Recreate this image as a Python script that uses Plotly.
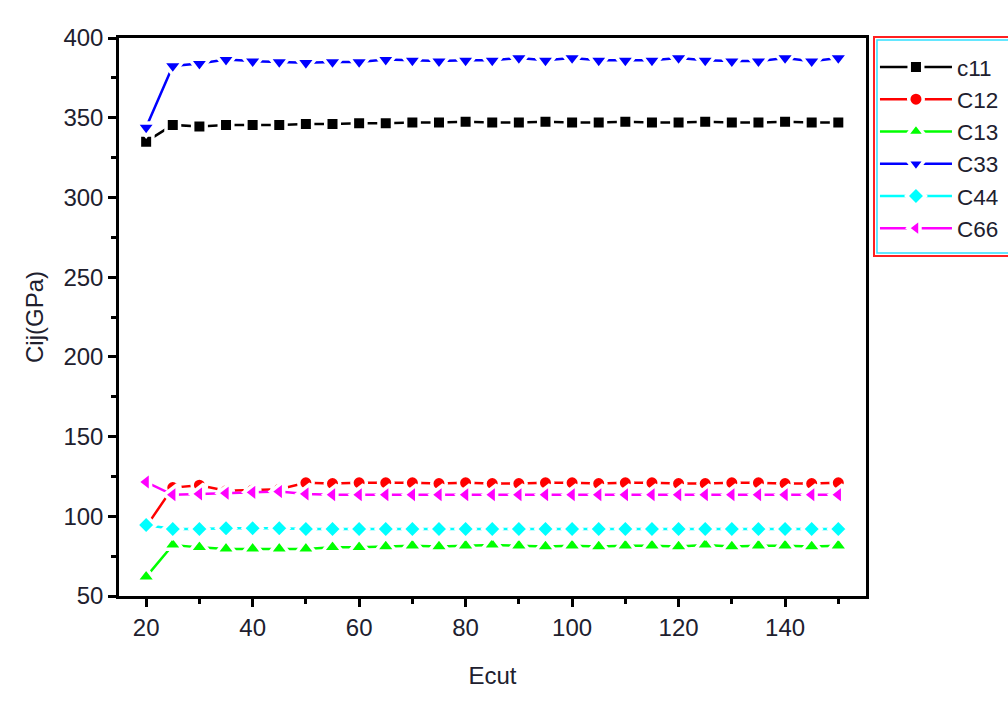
import plotly.graph_objects as go

ecut = [20, 25, 30, 35, 40, 45, 50, 55, 60, 65, 70, 75, 80, 85, 90, 95, 100,
        105, 110, 115, 120, 125, 130, 135, 140, 145, 150]

c11 = [335, 345.5, 344.5, 345.5, 345.5, 345.5, 346, 346, 346.5, 346.5,
       347, 347, 347.5, 347, 347, 347.5, 347, 347, 347.5, 347, 347, 347.5,
       347, 347, 347.5, 347, 347]
c12 = [93.5, 118, 119.5, 116, 116.5, 117, 121, 120.5, 121, 121,
       121, 120.5, 121, 120.5, 120.5, 121, 121, 120.5, 121, 121, 120.5,
       120.5, 121, 121, 120.5, 120.5, 121]
c13 = [62, 82, 80.5, 79.5, 79.5, 79.5, 79.5, 80.5, 80.5, 81,
       81.5, 81, 81.5, 82, 81.5, 81, 81.5, 81, 81.5, 81.5, 81, 82,
       81, 81.5, 81.5, 81, 81.5]
c33 = [344, 382.5, 384, 386.5, 385.5, 385, 384.5, 385, 385, 386.5,
       386, 385.5, 386, 386, 387.5, 386, 387.5, 386, 386, 386, 387.5,
       386, 385.5, 385.5, 387.5, 385.5, 387.5]
c44 = [94.5, 92, 92, 92.5, 92.5, 92.5, 92, 92, 92, 92,
       92, 92, 92, 92, 92, 92, 92, 92, 92, 92, 92, 92, 92, 92, 92, 92, 92]
c66 = [121.5, 113.5, 114, 114.5, 115, 115.5, 114, 113.5, 113.5, 113.5,
       113.5, 113.5, 113.5, 113.5, 113.5, 113.5, 113.5, 113.5, 113.5, 113.5,
       113.5, 113.5, 113.5, 113.5, 113.5, 113.5, 113.5]

names = ["c11", "C12", "C13", "C33", "C44", "C66"]
series = [c11, c12, c13, c33, c44, c66]
colors = ["#000000", "#ff0000", "#00ff00", "#0000ff", "#00ffff", "#ff00ff"]
symbols = ["square", "circle", "triangle-up", "triangle-down", "diamond", "triangle-left"]
sizes = [13.5, 14.5, 17.5, 17.5, 14.5, 17.5]

xticks = [20, 40, 60, 80, 100, 120, 140]
yticks = [50, 100, 150, 200, 250, 300, 350, 400]

FONT = "Liberation Sans, Arial, sans-serif"
TXT = "#20202e"

fig = go.Figure()
for nm, ys, col, sym, sz in zip(names, series, colors, symbols, sizes):
    fig.add_trace(go.Scatter(
        x=ecut, y=ys, name=nm, legendgroup=nm, mode="lines+markers",
        line=dict(color=col, width=2.5),
        marker=dict(symbol=sym, size=sz, color=col, line=dict(width=3.5, color="white")),
    ))

axis_common = dict(
    showline=True, linecolor="black", linewidth=2.5, mirror=True,
    ticks="outside", ticklen=8, tickwidth=2.5, tickcolor="black",
    showgrid=False, zeroline=False,
    tickfont=dict(family=FONT, size=24, color=TXT),
)

fig.update_xaxes(
    range=[14.9, 155.2], tickvals=xticks,
    minor=dict(dtick=10, tick0=0, ticks="outside", ticklen=5, tickwidth=2.5, tickcolor="black"),
    title=dict(text="Ecut", font=dict(family=FONT, size=24, color=TXT), standoff=28),
    **axis_common,
)
fig.update_yaxes(
    range=[50, 400], tickvals=yticks,
    minor=dict(dtick=25, tick0=0, ticks="outside", ticklen=5, tickwidth=2.5, tickcolor="black"),
    title=dict(text="Cij(GPa)", font=dict(family=FONT, size=24, color=TXT), standoff=14),
    **axis_common,
)

fig.update_layout(
    width=1008, height=716,
    margin=dict(l=119, r=142, t=38, b=120, autoexpand=False),
    paper_bgcolor="white", plot_bgcolor="white",
    legend=dict(
        x=1.012, y=0.986, xanchor="left", yanchor="top",
        font=dict(family=FONT, size=22.5, color=TXT),
        borderwidth=0, bgcolor="rgba(255,255,255,0)",
        tracegroupgap=0, itemwidth=72,
    ),
    shapes=[
        dict(type="rect", xref="paper", yref="paper",
             x0=1.0107, x1=1.25, y0=0.6093, y1=1.0018,
             line=dict(color="#ff2020", width=2)),
        dict(type="rect", xref="paper", yref="paper",
             x0=1.0147, x1=1.25, y0=0.6147, y1=0.9964,
             line=dict(color="#30e0ff", width=1.5)),
    ],
    showlegend=True,
)

fig.write_html("out.html")
